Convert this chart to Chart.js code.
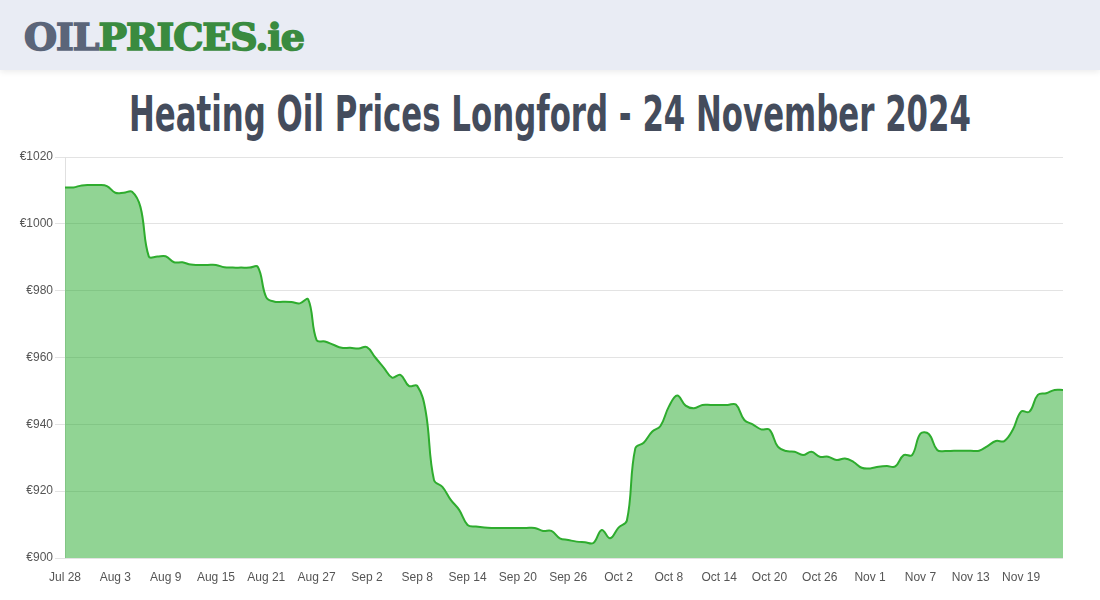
<!DOCTYPE html>
<html lang="en">
<head>
    <meta charset="UTF-8">
    <title>Heating Oil Prices Longford</title>
    <script src="https://cdn.jsdelivr.net/npm/chart.js@4.4.1/dist/chart.umd.min.js"></script>
    <style>
        html, body { margin: 0; padding: 0; background: #fff; width: 1100px; height: 600px; overflow: hidden; }
        .topbar {
            position: absolute; left: 0; top: 0; width: 1100px; height: 70px;
            background: #e9ecf4; box-shadow: 0 2px 6px rgba(0,0,0,0.08);
        }
        .logo {
            position: absolute; left: 24px; top: 15px;
            font-family: "DejaVu Serif", serif; font-weight: bold; font-size: 37px;
            letter-spacing: -1px; white-space: nowrap; transform-origin: left top;
            -webkit-text-stroke: 1.6px currentColor;
        }
        .logo .oil { color: #5b6579; }
        .logo .rest { color: #3a8b3f; }
        h1 {
            position: absolute; left: 0; top: 86px; margin: 0; white-space: nowrap;
            font-family: "Liberation Sans Narrow", "DejaVu Sans Condensed", sans-serif;
            font-weight: bold; font-size: 49px; color: #444c5c; transform-origin: left top;
        }
        .wrap { position: absolute; left: 0; top: 147px; width: 1100px; height: 453px; }
    </style>
</head>
<body>
    <div class="topbar">
        <div class="logo" id="logo"><span class="oil">OIL</span><span class="rest">PRICES.ie</span></div>
    </div>
    <h1 id="title">Heating Oil Prices Longford - 24 November 2024</h1>
    <div class="wrap"><canvas id="prices"></canvas></div>

    <script>
        // daily prices, Jul 28 -> Nov 24 2024
        const startDate = [2024, 6, 28];
        const dayCount = 120;
        const prices = [
            1010.9, 1010.9, 1011.5, 1011.6, 1011.6, 1011.3, 1009.3, 1009.3, 1009.6, 1005.0,
            990.2, 990.2, 990.3, 988.5, 988.5, 987.8, 987.7, 987.7, 987.7, 987.0,
            986.9, 986.9, 986.9, 987.1, 978.0, 976.7, 976.7, 976.6, 976.2, 977.4,
            965.2, 964.8, 963.8, 962.9, 962.9, 962.7, 963.1, 960.0, 957.0, 954.0,
            954.8, 951.5, 951.5, 944.0, 923.3, 921.3, 917.4, 914.4, 909.9, 909.4,
            909.1, 909.0, 909.0, 909.0, 909.0, 909.0, 909.0, 908.1, 908.1, 905.9,
            905.4, 904.9, 904.7, 904.5, 908.4, 905.9, 909.1, 911.2, 932.8, 934.5,
            937.8, 939.5, 945.3, 948.6, 945.6, 944.8, 945.8, 945.8, 945.8, 945.8,
            945.9, 941.3, 940.0, 938.5, 938.4, 933.3, 932.0, 931.8, 930.8, 931.8,
            930.3, 930.3, 929.3, 929.8, 928.8, 927.0, 926.8, 927.3, 927.5, 927.4,
            930.8, 930.8, 937.2, 937.1, 932.3, 932.0, 932.1, 932.1, 932.1, 932.1,
            933.5, 935.0, 935.0, 938.3, 943.8, 943.8, 948.8, 949.3, 950.3, 950.3
        ];
        const yTicks = [900, 920, 940, 960, 980, 1000, 1020];
        const labelEvery = 6;

        const months = ["Jan","Feb","Mar","Apr","May","Jun","Jul","Aug","Sep","Oct","Nov","Dec"];
        const labels = [];
        for (let i = 0; i < dayCount; i++) {
            const d = new Date(startDate[0], startDate[1], startDate[2] + i);
            labels.push(months[d.getMonth()] + " " + d.getDate());
        }

        // squeeze header texts to the reference widths
        function fitWidth(id, w) {
            const el = document.getElementById(id);
            const k = w / el.getBoundingClientRect().width;
            el.style.transform = "scaleX(" + k + ")";
            return el;
        }
        fitWidth("logo", 280);
        const title = fitWidth("title", 842);
        title.style.left = "129px";

        const tickFont = { family: "'Liberation Sans', Arial, sans-serif", size: 12 };

        new Chart(document.getElementById("prices"), {
            type: "line",
            data: {
                labels: labels,
                datasets: [{
                    data: prices,
                    borderColor: "rgb(46,172,46)",
                    backgroundColor: "rgba(36,170,42,0.5)",
                    borderWidth: 2,
                    fill: true,
                    tension: 0.4,
                    pointRadius: 0
                }]
            },
            options: {
                responsive: true,
                maintainAspectRatio: false,
                animation: false,
                layout: { padding: { top: 10, right: 37, bottom: 0, left: 0 } },
                plugins: { legend: { display: false }, tooltip: { enabled: false } },
                scales: {
                    x: {
                        grid: { display: false },
                        border: { display: false },
                        afterFit: s => { s.height = 42; },
                        ticks: {
                            autoSkip: false, maxRotation: 0, padding: 4,
                            color: "#555", font: tickFont,
                            callback: function (v, i) { return i % labelEvery === 0 ? labels[i] : null; }
                        }
                    },
                    y: {
                        min: yTicks[0], max: yTicks[yTicks.length - 1],
                        afterFit: s => { s.width = 65; },
                        afterBuildTicks: s => { s.ticks = yTicks.map(v => ({ value: v })); },
                        grid: { color: "rgba(0,0,0,0.11)", tickLength: 10 },
                        border: { color: "rgba(0,0,0,0.12)" },
                        ticks: {
                            color: "#555", font: tickFont, padding: 2,
                            callback: v => "€" + v
                        }
                    }
                }
            }
        });
    </script>
</body>
</html>
